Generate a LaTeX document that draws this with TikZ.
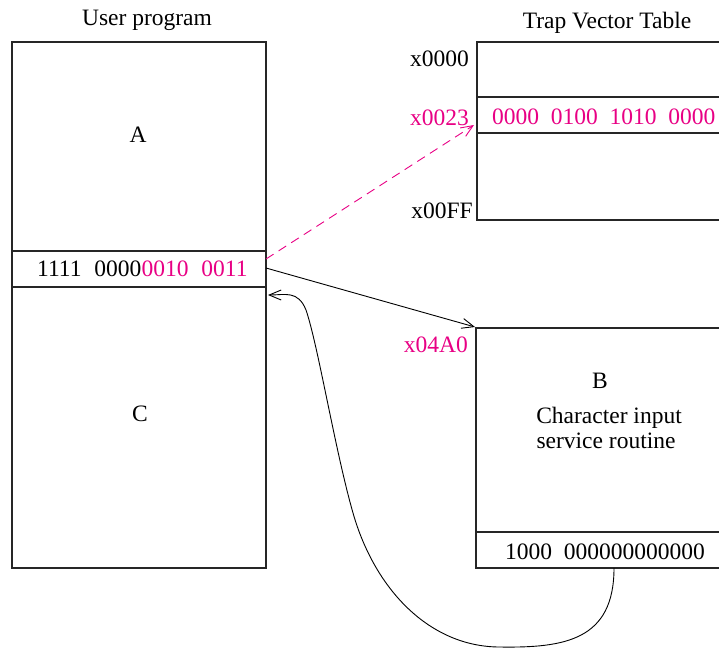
\documentclass[tikz,border=0pt]{standalone}
\usepackage{fontspec}
\setmainfont{Liberation Serif}
\usetikzlibrary{arrows.meta}
\definecolor{pinkc}{RGB}{232,0,132}
\tikzset{
  boxline/.style={line width=1.1pt, draw=black!85},
  lbl/.style={inner sep=0pt, font=\fontsize{23.5}{28}\selectfont},
  conn/.style={line width=0.9pt, -{Straight Barb[length=12pt,width=10pt,line width=0.9pt]}},
}
\begin{document}
\begin{tikzpicture}[x=1pt,y=-1pt]
\useasboundingbox (0,0) rectangle (719,648);
% user program box
\draw[boxline] (12,42) rectangle (266,568);
\draw[boxline] (12,251) -- (266,251);
\draw[boxline] (12,287) -- (266,287);
% trap vector table
\draw[boxline] (719,42) -- (477,42) -- (477,220) -- (719,220);
\draw[boxline] (477,97) -- (719,97);
\draw[boxline] (477,133) -- (719,133);
% service routine box
\draw[boxline] (719,328) -- (476,328) -- (476,568) -- (719,568);
\draw[boxline] (476,532) -- (719,532);

% texts
\node[lbl, anchor=base] (uphead) at (147,25) {User program};
\node[lbl, anchor=base] (tvthead) at (607,28) {Trap Vector Table};
\node[lbl, anchor=base] (A) at (138,142) {A};
\node[lbl, anchor=base] (C) at (140,421) {C};
\node[lbl, anchor=base] (B) at (600,388) {B};
\node[lbl, anchor=base] (desc1) at (609,423) {Character input};
\node[lbl, anchor=base] (desc2) at (606,448) {service routine};
\node[lbl, anchor=base west] (trapinstr) at (37,276) {1111\hspace{0.55em}0000\textcolor{pinkc}{0010\hspace{0.55em}0011}};
\node[lbl, anchor=base west, text=pinkc] (vec) at (492,124) {0000\hspace{0.5em}0100\hspace{0.5em}1010\hspace{0.5em}0000};
\node[lbl, anchor=base east] (a0) at (469,66) {x0000};
\node[lbl, anchor=base east, text=pinkc] (a23) at (469,125) {x0023};
\node[lbl, anchor=base east] (aff) at (473,218) {x00FF};
\node[lbl, anchor=base east, text=pinkc] (a4a0) at (468,352) {x04A0};
\node[lbl, anchor=base west] (rti) at (505,559) {1000\hspace{0.5em}000000000000};

% connector endpoints
\coordinate (dashStart) at (266,259);
\coordinate (dashEnd) at (474,125);
\coordinate (jmpStart) at (266,268);
\coordinate (jmpEnd) at (475,327);
\coordinate (retStart) at (614,568);
\coordinate (retEnd) at (268,295);

\draw[conn, pinkc, dash pattern=on 9pt off 6pt] (dashStart) -- (dashEnd);
\draw[conn] (jmpStart) -- (jmpEnd);
\draw[conn] (retStart) .. controls (614,640) and (565,648) .. (500,647)
  .. controls (430,647) and (375,590) .. (353,513)
  .. controls (335,450) and (318,345) .. (306,310)
  .. controls (298,290) and (285,295) .. (retEnd);
\end{tikzpicture}
\end{document}
